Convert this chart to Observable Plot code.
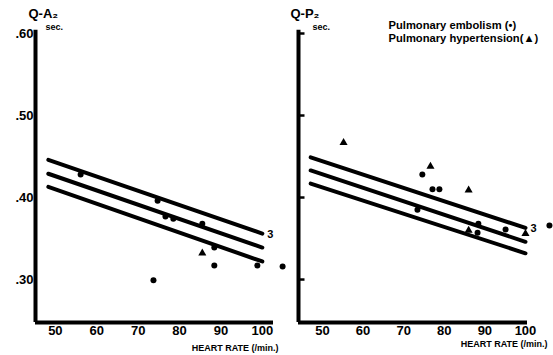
<!DOCTYPE html>
<html><head><meta charset="utf-8">
<script src="https://cdn.jsdelivr.net/npm/d3@7"></script>
<script src="https://cdn.jsdelivr.net/npm/@observablehq/plot@0.6"></script>
<style>
body{margin:0;background:#fff;}
#chart{position:relative;width:553px;height:355px;background:#fff;}
#chart svg{position:absolute;left:0;top:0;}
</style></head><body><div id="chart"></div>
<script>
// ---- shared ticks / labels ----
const hrTicks = [50, 60, 70, 80, 90, 100];
const secTicks = [0.30, 0.40, 0.50, 0.60];
const xTitle = "HEART RATE (/min.)";
const legendLabels = ["Pulmonary embolism (•)", "Pulmonary hypertension(▲)"];

// ---- Q-A2 panel ----
const qa2Title = "Q-A₂";
const qa2EmbolismHR  = [56.1, 74.7, 76.6, 78.5, 85.5, 88.4, 88.4, 73.7, 98.8, 104.9];
const qa2EmbolismSec = [0.428, 0.396, 0.377, 0.374, 0.368, 0.339, 0.317, 0.299, 0.317, 0.316];
const qa2HypertensionHR  = [85.5];
const qa2HypertensionSec = [0.332];
const qa2LineHR = [48.3, 100];
const qa2Upper  = [0.446, 0.356];
const qa2Middle = [0.429, 0.339];
const qa2Lower  = [0.413, 0.322];

// ---- Q-P2 panel ----
const qp2Title = "Q-P₂";
const qp2EmbolismHR  = [74.6, 77.1, 78.8, 73.4, 88.4, 88.2, 95.1, 105.9];
const qp2EmbolismSec = [0.428, 0.410, 0.410, 0.385, 0.368, 0.357, 0.361, 0.366];
const qp2HypertensionHR  = [55.2, 76.6, 86.0, 86.0, 100.0];
const qp2HypertensionSec = [0.467, 0.438, 0.409, 0.360, 0.356];
const qp2LineHR = [47.1, 100];
const qp2Upper  = [0.449, 0.363];
const qp2Middle = [0.433, 0.346];
const qp2Lower  = [0.417, 0.332];

const FONT = "'Liberation Sans', Arial, sans-serif";
const yDomain = [0.2476, 0.60];

function panel(o) {
  const [x0, x1] = o.xDomain;
  const y0 = yDomain[0];
  const marks = [
    // axes
    Plot.ruleX([x0], {y1: y0, y2: 0.604, stroke: "#000", strokeWidth: 4}),
    Plot.ruleY([y0], {x1: x0, x2: x1, stroke: "#000", strokeWidth: 4}),
    Plot.axisX(hrTicks, {tickSize: 0, tickPadding: 3, fontSize: 13, label: null}),
    // regression lines
    ...[o.upper, o.middle, o.lower].map(v =>
      Plot.line(v, {x: o.lineHR, y: v, stroke: "#000", strokeWidth: 4, strokeLinecap: "round"})),
    Plot.text(["3"], {x: [o.lineHR[1]], y: [o.upper[1]], dx: 8, dy: 1, fontSize: 11, textAnchor: "middle"}),
    // points
    Plot.dot(o.embSec, {x: o.embHR, y: o.embSec, r: 3, fill: "#000", stroke: null}),
    Plot.dot(o.hypSec, {x: o.hypHR, y: o.hypSec, r: 3, symbol: "triangle", fill: "#000", stroke: null}),
    // titles
    Plot.text([o.title], {frameAnchor: "top-left", dx: o.titleDx, dy: -25, lineAnchor: "top", textAnchor: "start", fontSize: 13}),
    Plot.text(["sec."], {frameAnchor: "top-left", dx: o.secDx, dy: -10, lineAnchor: "top", textAnchor: "start", fontSize: 9}),
    Plot.text([xTitle], {frameAnchor: "bottom-right", dx: o.xtDx, dy: o.xtDy, lineAnchor: "middle", textAnchor: "end", fontSize: 9})
  ];
  if (o.yLabels) {
    marks.push(Plot.axisY(secTicks, {tickSize: 0, tickPadding: 2, fontSize: 13, label: null, tickFormat: d => d.toFixed(2).slice(1)}));
  } else {
    marks.push(Plot.ruleY(secTicks, {y: d => d, x1: x0, x2: x0 + 1.6, stroke: "#000", strokeWidth: 2.5}));
    marks.push(Plot.text([legendLabels.join("\n")], {frameAnchor: "top-left", dx: 90, dy: -14, lineAnchor: "top", textAnchor: "start", lineHeight: 1.15, fontSize: 11.2}));
  }
  return Plot.plot({
    width: 553, height: 355,
    marginLeft: o.ml, marginRight: o.mr, marginTop: 33, marginBottom: 33,
    x: {domain: o.xDomain, axis: null},
    y: {domain: yDomain, axis: null},
    style: {background: "transparent", fontFamily: FONT, fontWeight: "bold", color: "#000", overflow: "visible"},
    marks
  });
}

const chart = document.getElementById("chart");
chart.append(panel({
  xDomain: [45.2, 102.7], ml: 35, mr: 280, yLabels: true,
  lineHR: qa2LineHR, upper: qa2Upper, middle: qa2Middle, lower: qa2Lower,
  embHR: qa2EmbolismHR, embSec: qa2EmbolismSec, hypHR: qa2HypertensionHR, hypSec: qa2HypertensionSec,
  title: qa2Title, titleDx: -7, secDx: 10, xtDx: 5, xtDy: 25.5
}));
chart.append(panel({
  xDomain: [44.1, 100.5], ml: 298, mr: 26, yLabels: false,
  lineHR: qp2LineHR, upper: qp2Upper, middle: qp2Middle, lower: qp2Lower,
  embHR: qp2EmbolismHR, embSec: qp2EmbolismSec, hypHR: qp2HypertensionHR, hypSec: qp2HypertensionSec,
  title: qp2Title, titleDx: -8, secDx: 14, xtDx: 20, xtDy: 22
}));
</script></body></html>
